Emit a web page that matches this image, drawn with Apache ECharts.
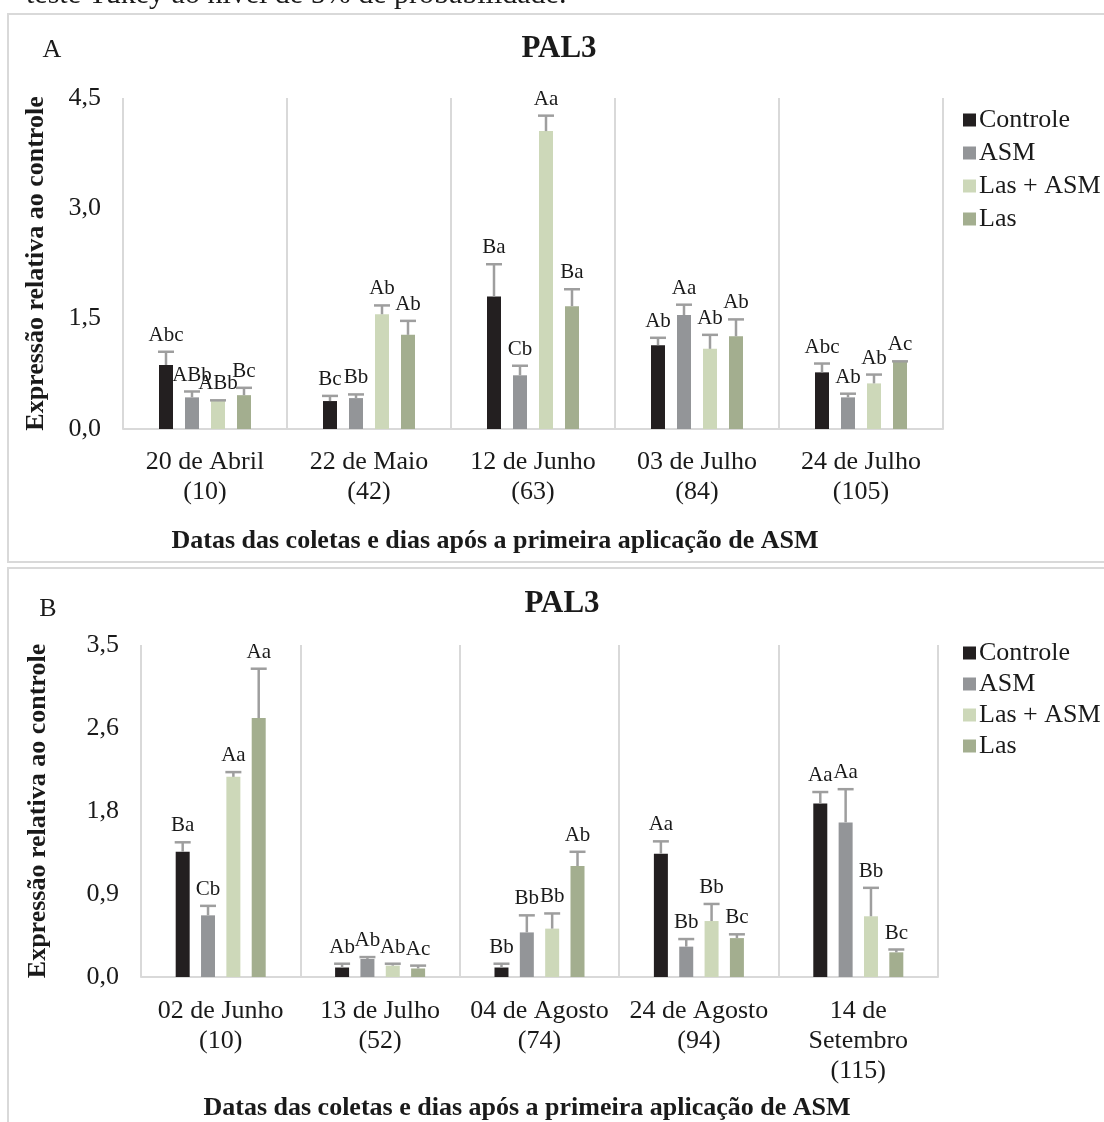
<!DOCTYPE html>
<html>
<head>
<meta charset="utf-8">
<script src="https://cdn.jsdelivr.net/npm/echarts@6/dist/echarts.min.js"></script>
<style>
  html, body { margin: 0; padding: 0; background: #fff; }
  #main { width: 1104px; height: 1122px; }
</style>
</head>
<body>
<div id="main"></div>
<script>
// Treatments and colours
const treatments = ['Controle', 'ASM', 'Las + ASM', 'Las'];
const barColors = ['#231f20', '#939598', '#cdd8b9', '#a3ae8f'];

// Panel A — sampling dates (days after first ASM application)
const datesA = ['20 de Abril\n(10)', '22 de Maio\n(42)', '12 de Junho\n(63)', '03 de Julho\n(84)', '24 de Julho\n(105)'];
const yTicksA = ['0,0', '1,5', '3,0', '4,5'];
const controleA = [0.87, 0.38, 1.80, 1.14, 0.77];
const asmA      = [0.43, 0.42, 0.73, 1.55, 0.43];
const lasAsmA   = [0.38, 1.56, 4.05, 1.09, 0.62];
const lasA      = [0.46, 1.28, 1.67, 1.26, 0.91];
const controleErrA = [0.18, 0.07, 0.44, 0.10, 0.12];
const asmErrA      = [0.08, 0.05, 0.13, 0.14, 0.05];
const lasAsmErrA   = [0.01, 0.12, 0.21, 0.19, 0.12];
const lasErrA      = [0.10, 0.19, 0.23, 0.23, 0.01];
const controleLblA = ['Abc', 'Bc', 'Ba', 'Ab', 'Abc'];
const asmLblA      = ['ABb', 'Bb', 'Cb', 'Aa', 'Ab'];
const lasAsmLblA   = ['ABb', 'Ab', 'Aa', 'Ab', 'Ab'];
const lasLblA      = ['Bc', 'Ab', 'Ba', 'Ab', 'Ac'];

// Panel B
const datesB = ['02 de Junho\n(10)', '13 de Julho\n(52)', '04 de Agosto\n(74)', '24 de Agosto\n(94)', '14 de\nSetembro\n(115)'];
const yTicksB = ['0,0', '0,9', '1,8', '2,6', '3,5'];
const controleB = [1.32, 0.10, 0.10, 1.30, 1.83];
const asmB      = [0.65, 0.19, 0.47, 0.32, 1.63];
const lasAsmB   = [2.11, 0.12, 0.51, 0.59, 0.64];
const lasB      = [2.73, 0.09, 1.17, 0.41, 0.26];
const controleErrB = [0.10, 0.04, 0.04, 0.13, 0.12];
const asmErrB      = [0.10, 0.02, 0.18, 0.08, 0.35];
const lasAsmErrB   = [0.05, 0.02, 0.16, 0.18, 0.30];
const lasErrB      = [0.52, 0.03, 0.15, 0.04, 0.03];
const controleLblB = ['Ba', 'Ab', 'Bb', 'Aa', 'Aa'];
const asmLblB      = ['Cb', 'Ab', 'Bb', 'Bb', 'Aa'];
const lasAsmLblB   = ['Aa', 'Ab', 'Bb', 'Bb', 'Bb'];
const lasLblB      = ['Aa', 'Ac', 'Ab', 'Bc', 'Bc'];

const FONT = '"Liberation Serif", "Times New Roman", serif';
const TEXT = '#1a1a1a';
const LINE = '#d9d9d9';
const ERR = '#9e9e9e';
const yName = 'Expressão relativa ao controle';
const xName = 'Datas das coletas e dias após a primeira aplicação de ASM';

const series = [];

function addPanel(idx, values, errs, labels, barW, gapRatio) {
  const gapPct = Math.round(gapRatio * 1000) / 10 + '%';
  values.forEach((vals, k) => {
    series.push({
      type: 'bar', name: treatments[k], xAxisIndex: idx, yAxisIndex: idx,
      data: vals, barWidth: barW, barGap: gapPct,
      itemStyle: { color: barColors[k] }, silent: true
    });
  });
  // upper error whiskers with the Tukey letters above them
  values.forEach((vals, k) => {
    const pitch = barW * (1 + gapRatio);
    series.push({
      type: 'custom', coordinateSystem: 'cartesian2d', xAxisIndex: idx, yAxisIndex: idx,
      z: 5, silent: true,
      data: vals.map((v, i) => [i, v, v + errs[k][i]]),
      renderItem: (params, api) => {
        const ci = api.value(0);
        const p0 = api.coord([ci, api.value(1)]);
        const p1 = api.coord([ci, api.value(2)]);
        const x = p0[0] + (k - 1.5) * pitch;
        return {
          type: 'group',
          children: [
            { type: 'line', shape: { x1: x, y1: p0[1], x2: x, y2: p1[1] }, style: { stroke: ERR, lineWidth: 2.5 } },
            { type: 'line', shape: { x1: x - 8, y1: p1[1], x2: x + 8, y2: p1[1] }, style: { stroke: ERR, lineWidth: 2.5 } },
            { type: 'text', x: x, y: p1[1] - 6,
              style: { text: labels[k][params.dataIndex], font: '21px ' + FONT, fill: TEXT, align: 'center', verticalAlign: 'bottom' } }
          ]
        };
      }
    });
  });
}

addPanel(0, [controleA, asmA, lasAsmA, lasA], [controleErrA, asmErrA, lasAsmErrA, lasErrA],
         [controleLblA, asmLblA, lasAsmLblA, lasLblA], 14, 0.857);
addPanel(1, [controleB, asmB, lasAsmB, lasB], [controleErrB, asmErrB, lasAsmErrB, lasErrB],
         [controleLblB, asmLblB, lasAsmLblB, lasLblB], 14, 0.81);

function xAxisFor(idx, dates, margin) {
  return {
    type: 'category', gridIndex: idx, data: dates,
    axisLine: { lineStyle: { color: LINE, width: 2 } },
    axisTick: { show: false },
    splitLine: { show: true, interval: 0, lineStyle: { color: LINE, width: 2 } },
    axisLabel: { interval: 0, fontFamily: FONT, fontSize: 26, color: TEXT, lineHeight: 30, margin: margin }
  };
}
function yAxisFor(idx, max, step, ticks, gap) {
  return {
    type: 'value', gridIndex: idx, min: 0, max: max, interval: step,
    axisLine: { show: false }, axisTick: { show: false }, splitLine: { show: false },
    axisLabel: { fontFamily: FONT, fontSize: 26, color: TEXT, margin: 22,
      formatter: v => ticks[Math.round(v / step)] || '' },
    name: yName, nameLocation: 'middle', nameGap: gap,
    nameTextStyle: { fontFamily: FONT, fontSize: 26, fontWeight: 'bold', color: TEXT }
  };
}
function legendFor(top, gap) {
  return {
    orient: 'vertical', left: 958, top: top, icon: 'rect', itemWidth: 13, itemHeight: 13,
    itemGap: gap, data: treatments, selectedMode: false,
    textStyle: { fontFamily: FONT, fontSize: 26, color: TEXT, padding: [0, 0, 0, -2] }
  };
}

const chart = echarts.init(document.getElementById('main'), null, { renderer: 'canvas' });
chart.setOption({
  animation: false,
  backgroundColor: '#fff',
  grid: [
    { left: 123, top: 98, width: 820, height: 331 },
    { left: 141, top: 645, width: 797, height: 332 }
  ],
  xAxis: [xAxisFor(0, datesA, 18), xAxisFor(1, datesB, 19)],
  yAxis: [yAxisFor(0, 4.5, 1.5, yTicksA, 74), yAxisFor(1, 3.5, 0.875, yTicksB, 90)],
  legend: [legendFor(102, 7), legendFor(635, 5)],
  series: series,
  graphic: [
    { type: 'text', left: 26, top: -20, style: { text: 'teste Tukey ao nível de 5% de probabilidade.', font: '30px ' + FONT, fill: TEXT } },
    { type: 'rect', shape: { x: 8, y: 14, width: 1120, height: 548 }, style: { fill: 'none', stroke: LINE, lineWidth: 2 }, z: -1 },
    { type: 'rect', shape: { x: 8, y: 568, width: 1120, height: 600 }, style: { fill: 'none', stroke: LINE, lineWidth: 2 }, z: -1 },
    { type: 'text', x: 52, y: 50, style: { text: 'A', font: '26px ' + FONT, fill: TEXT, align: 'center', verticalAlign: 'middle' } },
    { type: 'text', x: 48, y: 609, style: { text: 'B', font: '26px ' + FONT, fill: TEXT, align: 'center', verticalAlign: 'middle' } },
    { type: 'text', x: 559, y: 49, style: { text: 'PAL3', font: 'bold 31px ' + FONT, fill: TEXT, align: 'center', verticalAlign: 'middle' } },
    { type: 'text', x: 562, y: 604, style: { text: 'PAL3', font: 'bold 31px ' + FONT, fill: TEXT, align: 'center', verticalAlign: 'middle' } },
    { type: 'text', x: 495, y: 541, style: { text: xName, font: 'bold 26px ' + FONT, fill: TEXT, align: 'center', verticalAlign: 'middle' } },
    { type: 'text', x: 527, y: 1108, style: { text: xName, font: 'bold 26px ' + FONT, fill: TEXT, align: 'center', verticalAlign: 'middle' } }
  ]
});
</script>
</body>
</html>
